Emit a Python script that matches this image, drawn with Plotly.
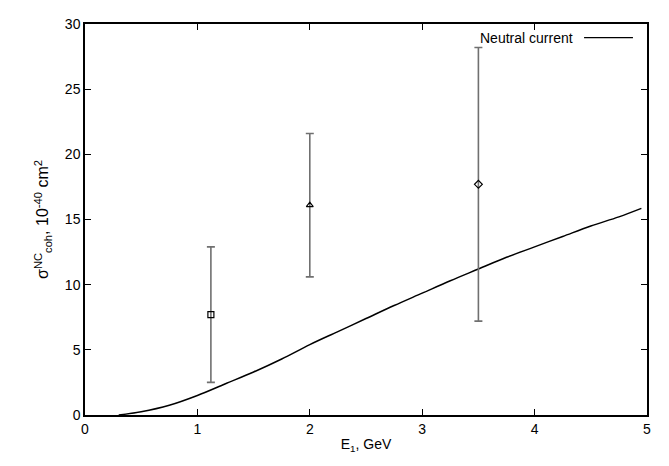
import plotly.graph_objects as go

# Theory curve (neutral current)
curve_E = [0.3, 0.5, 0.75, 1.0, 1.25, 1.5, 1.75, 2.0, 2.25, 2.5, 2.75, 3.0,
           3.25, 3.5, 3.75, 4.0, 4.25, 4.5, 4.75, 4.95]
curve_sigma = [0.0, 0.25, 0.75, 1.5, 2.4, 3.3, 4.3, 5.4, 6.4, 7.4, 8.4, 9.35,
               10.3, 11.2, 12.1, 12.9, 13.7, 14.5, 15.2, 15.85]

# Data points with error bars
pt_E = [1.12, 2.0, 3.5]
pt_sigma = [7.7, 16.1, 17.7]
pt_hi = [12.9, 21.6, 28.2]
pt_lo = [2.5, 10.6, 7.2]
pt_symbols = ["square-open", "triangle-up-open", "diamond-open"]

x_ticks = [0, 1, 2, 3, 4, 5]
y_ticks = [0, 5, 10, 15, 20, 25, 30]

FONT = "Liberation Sans, Arial, Helvetica, sans-serif"

fig = go.Figure()

fig.add_trace(go.Scatter(
    x=curve_E, y=curve_sigma, mode="lines",
    line=dict(color="black", width=1.5, shape="spline"),
    name="Neutral current", showlegend=False,
))

for e, s, hi, lo, sym in zip(pt_E, pt_sigma, pt_hi, pt_lo, pt_symbols):
    fig.add_trace(go.Scatter(
        x=[e], y=[s], mode="markers",
        marker=dict(symbol=sym, size=6, color="black", line=dict(width=1.2, color="black")),
        error_y=dict(type="data", symmetric=False, array=[hi - s], arrayminus=[s - lo],
                     color="#707070", thickness=1.6, width=4),
        showlegend=False,
    ))

# Legend (text left, line sample right, gnuplot style)
fig.add_annotation(
    x=0.872, y=0.965, xref="paper", yref="paper", xanchor="right", yanchor="middle",
    text="Neutral current", showarrow=False,
    font=dict(family=FONT, size=14, color="black"),
)
fig.add_shape(type="line", xref="paper", yref="paper",
              x0=0.888, x1=0.975, y0=0.965, y1=0.965,
              line=dict(color="black", width=1.3))

axis_common = dict(
    showline=True, linecolor="black", linewidth=1.5, mirror="allticks",
    ticks="inside", ticklen=6, tickcolor="black", tickwidth=1,
    showgrid=False, zeroline=False,
    tickfont=dict(family=FONT, size=14, color="black"),
)

fig.update_layout(
    width=661, height=458,
    margin=dict(l=77, r=22, t=8, b=51),
    plot_bgcolor="white", paper_bgcolor="white",
    font=dict(family=FONT, size=14, color="black"),
    xaxis=dict(range=[0, 5], tickvals=x_ticks,
               title=dict(text="E<sub>1</sub>, GeV", font=dict(family=FONT, size=14), standoff=4),
               **axis_common),
    yaxis=dict(range=[0, 30], tickvals=y_ticks,
               title=dict(text="σ<sup>NC</sup><sub>coh</sub>, 10<sup>-40</sup> cm<sup>2</sup>",
                          font=dict(family=FONT, size=16), standoff=12),
               **axis_common),
)

fig.write_html("out.html")
